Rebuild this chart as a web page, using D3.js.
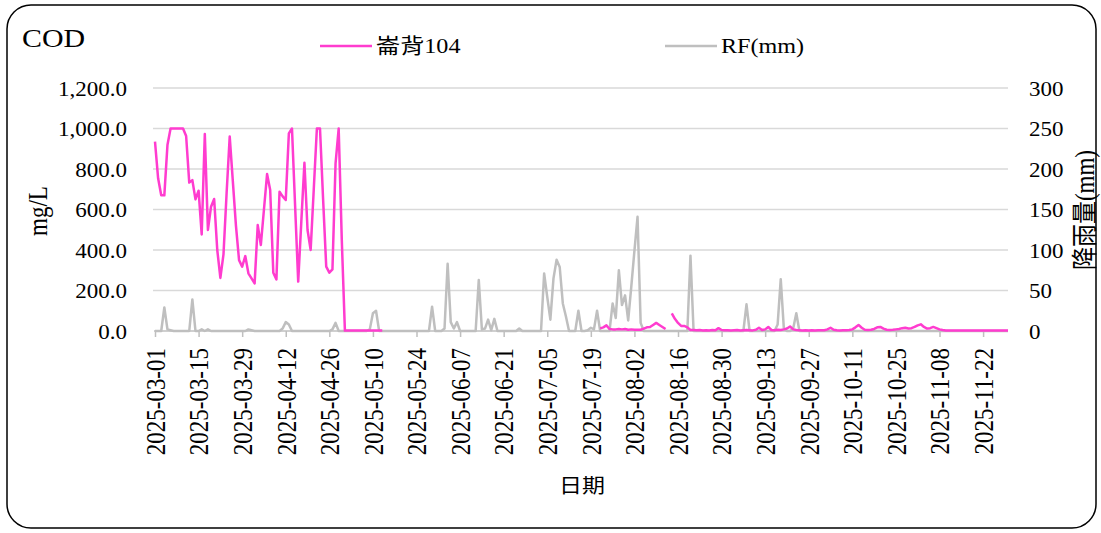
<!DOCTYPE html>
<html>
<head>
<meta charset="utf-8">
<script src="https://cdn.jsdelivr.net/npm/d3@7"></script>
<style>
  html, body { margin: 0; padding: 0; background: #fff; }
  svg { display: block; }
  text { font-family: "Liberation Serif", "Times New Roman", "Noto Sans CJK TC", serif; fill: #000; }
</style>
</head>
<body>
<svg id="chart" width="1101" height="533"></svg>
<script>
// Daily series from 2025-03-01 to 2025-11-30
const startDate = "2025-03-01";
const endDate = "2025-11-30";

// COD at 崙背104 (mg/L), one value per day, null = no sample
const codMar = [935,754,670,670,918,1000,1000,1000,1000,1000,963,733,745,650,693,477,973,499,614,652,400,262,378,680,960,740,520,350,318,370,285];
const codApr = [260,235,523,425,600,775,696,288,255,688,665,647,976,1000,620,244,540,831,499,400,700,1000,1000,650,318,288,304,828,1000,450];
const codMay = [2,2,2,2,2,2,2,2,2,2,2,2,2,null,null,null,null,null,null,null,null,null,null,null,null,null,null,null,null,null,null];
const codJun = [null,null,null,null,null,null,null,null,null,null,null,null,null,null,null,null,null,null,null,null,null,null,null,null,null,null,null,null,null,null];
const codJul = [null,null,null,null,null,null,null,null,null,null,null,null,null,null,null,null,null,null,null,null,null,13,18,28,10,8,8,10,8,10,6];
const codAug = [8,6,6,6,12,18,20,30,40,30,20,10,null,87,60,40,25,25,18,5,5,4,5,3,4,3,5,4,14,5,4];
const codSep = [4,3,4,5,3,4,5,4,3,6,16,5,8,20,5,4,6,5,8,12,22,8,5,4,3,4,3,4,3,4];
const codOct = [4,4,8,16,6,4,3,4,4,5,8,18,30,16,6,5,6,10,18,20,12,6,5,6,8,10,14,16,12,14,20];
const codNov = [28,33,20,12,14,20,14,8,5,3,3,2,2,3,2,2,2,3,2,2,2,2,3,2,2,2,2,2,2,2];

// Daily rainfall RF (mm)
const rfMar = [0,0,0,29,2,1,0,0,0,0,0,0,39,0,0,2,0,2,0,0,0,0,0,0,0,0,0,0,0,0,2];
const rfApr = [1,0,0,0,0,0,0,0,0,0,3,11,8,0,0,0,0,0,0,0,0,0,0,0,0,0,2,10,0,0];
const rfMay = [0,0,0,0,0,0,0,0,2,22,25,0,0,0,0,0,0,0,0,0,0,0,0,0,0,0,0,0,30,0,0];
const rfJun = [0,3,83,11,3,11,0,0,0,0,0,0,63,2,3,14,1,15,0,0,0,0,0,0,0,3,0,0,0,0];
const rfJul = [0,0,0,71,42,14,65,88,79,34,18,0,0,0,25,0,0,1,4,2,25,0,0,0,0,34,16,75,32,44,13];
const rfAug = [55,99,141,10,0,0,0,0,0,0,0,0,0,0,0,0,0,0,0,93,0,0,0,0,0,0,0,0,0,0,0];
const rfSep = [0,0,0,0,0,0,33,0,0,0,0,0,0,0,0,0,8,64,3,0,0,3,22,0,0,0,0,0,0,0];
const rfOct = [0,0,0,0,0,0,0,0,0,0,0,0,0,0,0,0,0,0,0,0,0,0,0,0,0,0,0,0,0,0,0];
const rfNov = [0,0,0,0,0,0,0,0,0,0,0,0,0,0,0,0,0,0,0,0,0,0,0,0,0,0,0,0,0,0];

// Axis ticks
const xTickLabels = ["2025-03-01","2025-03-15","2025-03-29","2025-04-12","2025-04-26","2025-05-10","2025-05-24","2025-06-07","2025-06-21","2025-07-05","2025-07-19","2025-08-02","2025-08-16","2025-08-30","2025-09-13","2025-09-27","2025-10-11","2025-10-25","2025-11-08","2025-11-22"];
const leftTicks = [0,200,400,600,800,1000,1200];
const rightTicks = [0,50,100,150,200,250,300];

const seriesName = "崙背104";
const rainName = "RF(mm)";

const cod = [].concat(codMar, codApr, codMay, codJun, codJul, codAug, codSep, codOct, codNov);
const rf = [].concat(rfMar, rfApr, rfMay, rfJun, rfJul, rfAug, rfSep, rfOct, rfNov);

const parse = d3.utcParse("%Y-%m-%d");
const fmt = d3.utcFormat("%Y-%m-%d");
const t0 = parse(startDate), t1 = parse(endDate);
const days = cod.map((_, i) => d3.utcDay.offset(t0, i));

const SX = 1.15; // horizontal glyph stretch
const magenta = "#ff3ccf";
const grey = "#bfbfbf";

const svg = d3.select("#chart");

// frame
svg.append("rect")
  .attr("x", 7).attr("y", 5).attr("width", 1089).attr("height", 523)
  .attr("rx", 24).attr("ry", 24)
  .attr("fill", "#fff").attr("stroke", "#000").attr("stroke-width", 1.5);

const plot = { left: 155, right: 1008, top: 88, bottom: 331 };

const x = d3.scaleUtc().domain([t0, t1]).range([plot.left, plot.right]);
const yL = d3.scaleLinear().domain([0, 1200]).range([plot.bottom, plot.top]);
const yR = d3.scaleLinear().domain([0, 300]).range([plot.bottom, plot.top]);

// gridlines
svg.append("g")
  .selectAll("line").data(leftTicks.slice(1)).join("line")
  .attr("x1", plot.left - 2).attr("x2", plot.right)
  .attr("y1", d => yL(d)).attr("y2", d => yL(d))
  .attr("stroke", "#d9d9d9").attr("stroke-width", 1.5);

// left axis labels
const gl = svg.append("g").attr("transform", `translate(${plot.left - 28},0)`)
  .call(d3.axisLeft(yL).tickValues(leftTicks).tickFormat(d3.format(",.1f")).tickSize(0).tickPadding(0));
gl.select(".domain").remove();
gl.selectAll("text")
  .attr("font-size", 20).attr("font-family", null)
  .attr("dy", "0.35em").attr("x", 0)
  .attr("transform", `scale(${SX},1)`);

// right axis labels
const gr = svg.append("g").attr("transform", `translate(${plot.right + 21},0)`)
  .call(d3.axisRight(yR).tickValues(rightTicks).tickFormat(d3.format("d")).tickSize(0).tickPadding(0));
gr.select(".domain").remove();
gr.selectAll("text")
  .attr("font-size", 20).attr("font-family", null)
  .attr("dy", "0.35em").attr("x", 0)
  .attr("transform", `scale(${SX},1)`);

// bottom axis
const gx = svg.append("g").attr("transform", `translate(0,${plot.bottom})`)
  .call(d3.axisBottom(x).tickValues(xTickLabels.map(parse)).tickFormat(fmt).tickSize(6).tickSizeOuter(0));
gx.select(".domain").attr("stroke", grey).attr("stroke-width", 1.5)
  .attr("d", `M${plot.left - 1},0H${plot.right}`);
gx.selectAll(".tick line").attr("stroke", grey).attr("stroke-width", 1.5);
gx.selectAll(".tick text")
  .attr("font-size", 23).attr("font-family", null)
  .attr("text-anchor", "end")
  .attr("x", -17).attr("y", 0).attr("dy", "0.35em")
  .attr("transform", `rotate(-90) scale(1,${SX})`);

// lines
const codLine = d3.line()
  .defined(d => d[1] != null)
  .x(d => x(d[0])).y(d => yL(d[1]));
const rfLine = d3.line()
  .x(d => x(d[0])).y(d => yR(d[1]));

svg.append("path")
  .datum(days.map((d, i) => [d, rf[i]]))
  .attr("fill", "none").attr("stroke", grey).attr("stroke-width", 2.5)
  .attr("stroke-linejoin", "round")
  .attr("d", rfLine);

svg.append("path")
  .datum(days.map((d, i) => [d, cod[i]]))
  .attr("fill", "none").attr("stroke", magenta).attr("stroke-width", 2.5)
  .attr("stroke-linejoin", "round")
  .attr("d", codLine);

// text helper with horizontal stretch
function label(txt, px, py, size, anchor, rotate) {
  const tr = rotate
    ? `translate(${px},${py}) rotate(-90) scale(1,${SX})`
    : `translate(${px},${py}) scale(${SX},1)`;
  return svg.append("text")
    .attr("transform", tr)
    .attr("font-size", size)
    .attr("text-anchor", anchor)
    .attr("dy", "0.35em")
    .text(txt);
}

// title
label("COD", 22, 38, 26, "start", false);

// axis titles
label("mg/L", 38, 211, 23, "middle", true);
label("降雨量(mm)", 1085, 210, 23, "middle", true);
label("日期", 582, 486, 20, "middle", false);

// legend
svg.append("line").attr("x1", 320).attr("x2", 372).attr("y1", 46).attr("y2", 46)
  .attr("stroke", magenta).attr("stroke-width", 2.5);
label(seriesName, 376, 46, 21, "start", false);
svg.append("line").attr("x1", 665).attr("x2", 717).attr("y1", 46).attr("y2", 46)
  .attr("stroke", grey).attr("stroke-width", 2.5);
label(rainName, 721, 46, 21, "start", false);
</script>
</body>
</html>
